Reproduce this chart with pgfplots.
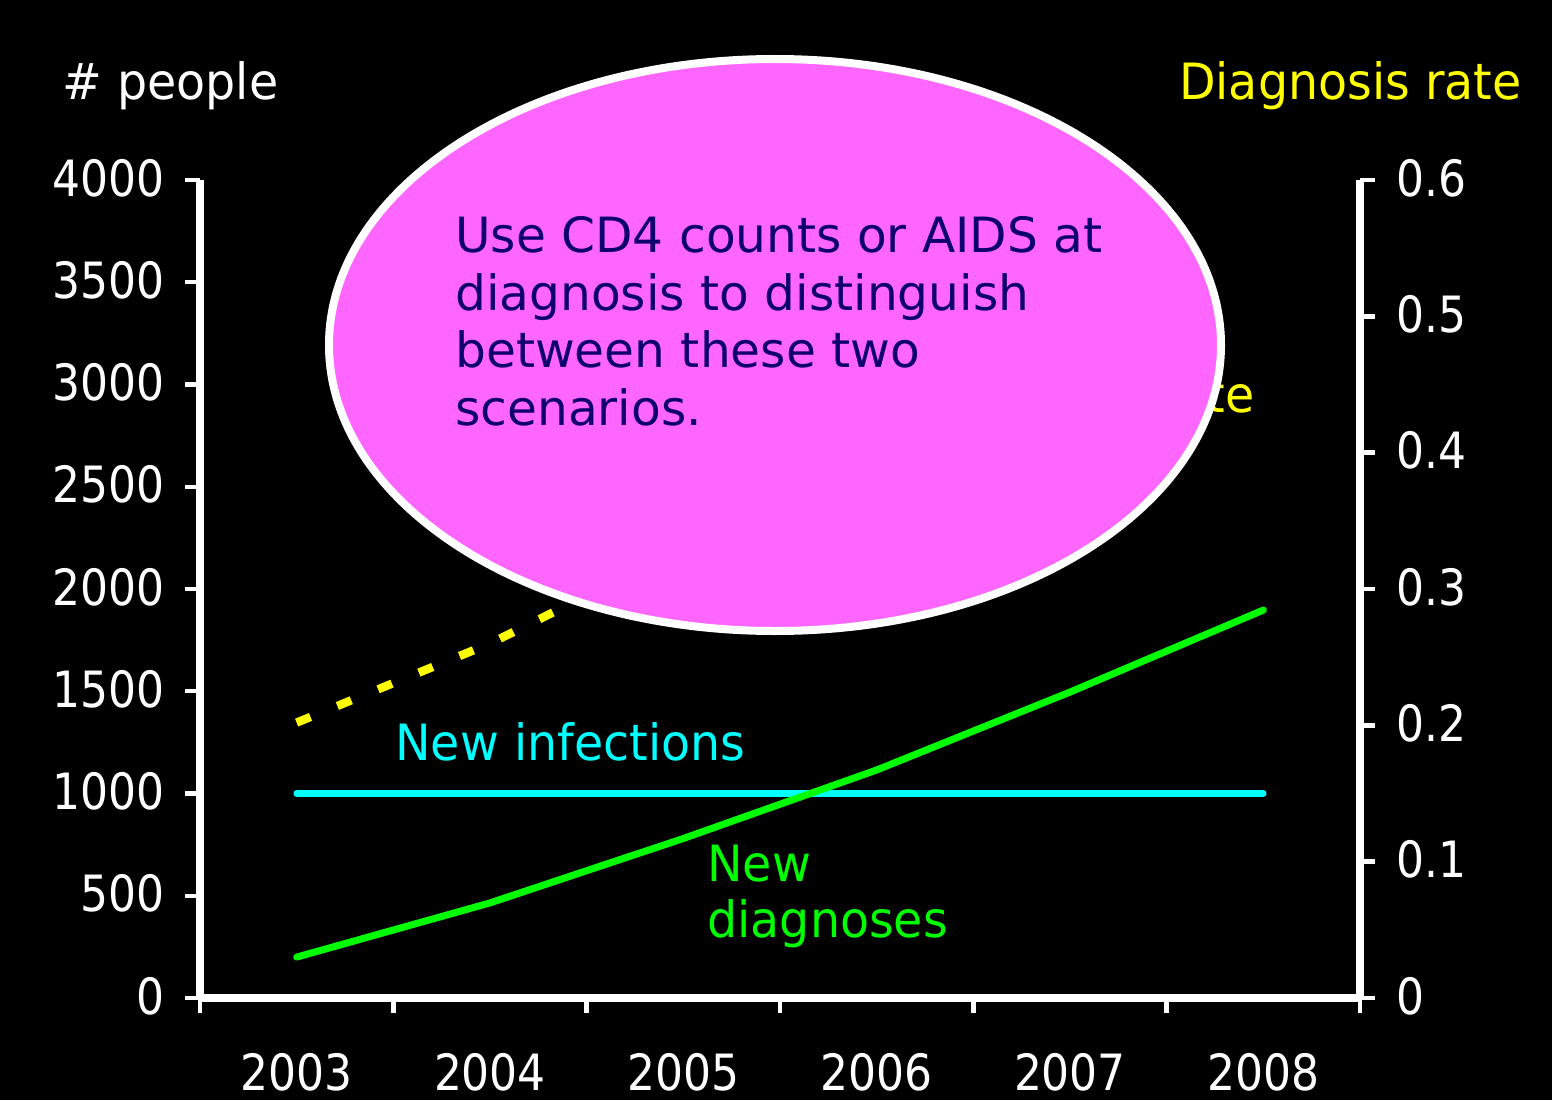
\documentclass[border=0pt]{standalone}
\usepackage{pgfplots}
\pgfplotsset{compat=1.18}
\usepackage{fontspec}
\setmainfont{DejaVu Sans}
\newfontfamily\narrowfont[FakeStretch=0.95]{DejaVu Sans}
\newfontfamily\digitfont[FakeStretch=0.88]{DejaVu Sans}
\definecolor{ellfill}{RGB}{255,102,255}
\definecolor{navytext}{RGB}{16,0,110}
\definecolor{ngreen}{RGB}{0,255,0}
\definecolor{ncyan}{RGB}{0,255,255}
\definecolor{nyellow}{RGB}{255,255,0}
\begin{document}
\begin{tikzpicture}
\fill[black] (-100pt,-51pt) rectangle (676pt,499pt);
\begin{axis}[
  scale only axis, width=580pt, height=409pt,
  xmin=0, xmax=6, ymin=0, ymax=4000,
  axis x line=bottom, axis y line=left,
  axis line style={white, line width=3.8pt, -},
  tick align=outside,
  xtick={0.5,1.5,2.5,3.5,4.5,5.5},
  xticklabels={2003,2004,2005,2006,2007,2008},
  major x tick style={draw=none},
  minor xtick={0,1,2,3,4,5,6},
  minor x tick style={white, line width=2.2pt},
  minor tick length=7.5pt,
  ytick={0,500,1000,1500,2000,2500,3000,3500,4000},
  major tick length=7.5pt,
  y tick style={white, line width=2.2pt},
  /pgf/number format/assume math mode=true,
  /pgf/number format/1000 sep={},
  ticklabel style={font=\digitfont\fontsize{25}{30}\selectfont, text=white, inner sep=0pt},
  xticklabel style={anchor=base, yshift=-38.5pt},
  yticklabel style={anchor=east, xshift=-10pt, yshift=1pt},
  clip=false,
]
\addplot[ncyan, line width=3.2pt, line cap=round] coordinates {(0.5,1000) (5.5,1000)};
\addplot[ngreen, line width=3.5pt, line cap=round, line join=round] coordinates {
 (0.5,200) (1.5,465) (2.5,780) (3.5,1115) (4.5,1496) (5.5,1897)};
\end{axis}
\begin{axis}[
  scale only axis, width=580pt, height=409pt,
  xmin=0, xmax=6, ymin=0, ymax=0.6,
  axis x line=none, axis y line=right,
  axis line style={white, line width=3.8pt, -},
  tick align=outside,
  ytick={0,0.1,0.2,0.3,0.4,0.5,0.6},
  major tick length=7.5pt,
  y tick style={white, line width=2.2pt},
  /pgf/number format/assume math mode=true,
  ticklabel style={font=\digitfont\fontsize{25}{30}\selectfont, text=white, inner sep=0pt},
  yticklabel style={anchor=west, xshift=10.5pt, yshift=1pt},
  clip=false,
]
\addplot[nyellow, line width=4.2pt, dash pattern=on 7.5pt off 14.5pt] coordinates {
 (0.5,0.202) (1.5,0.260) (2.5,0.330) (3.5,0.400) (4.5,0.475)};
\end{axis}
% labels
\node[anchor=base west, text=white, font=\narrowfont\fontsize{25}{30}\selectfont, inner sep=0pt] at (-69pt,449pt) {\# people};
\node[anchor=base east, text=nyellow, font=\narrowfont\fontsize{25}{30}\selectfont, inner sep=0pt] at (661pt,449pt) {Diagnosis rate};
\node[anchor=base east, text=nyellow, font=\narrowfont\fontsize{25}{30}\selectfont, inner sep=0pt] at (527.5pt,293pt) {Diagnosis rate};
\node[anchor=base west, text=ncyan, font=\narrowfont\fontsize{25}{30}\selectfont, inner sep=0pt] at (97.5pt,119pt) {New infections};
\node[anchor=base west, text=ngreen, font=\narrowfont\fontsize{25}{30}\selectfont, inner sep=0pt] at (253.5pt,58.5pt) {New};
\node[anchor=base west, text=ngreen, font=\narrowfont\fontsize{25}{30}\selectfont, inner sep=0pt] at (253.5pt,30.5pt) {diagnoses};
% ellipse
\draw[white, line width=4pt, fill=ellfill] (287.5pt,326.5pt) ellipse [x radius=223pt, y radius=143pt];
\begin{scope}[every node/.style={anchor=base west, text=navytext, font=\fontsize{24.3}{29}\selectfont, inner sep=0pt}]
\node at (127.5pt,373pt) {Use CD4 counts or AIDS at};
\node at (127.5pt,344pt) {diagnosis to distinguish};
\node at (127.5pt,315.5pt) {between these two};
\node at (127.5pt,286.5pt) {scenarios.};
\end{scope}
\end{tikzpicture}
\end{document}
